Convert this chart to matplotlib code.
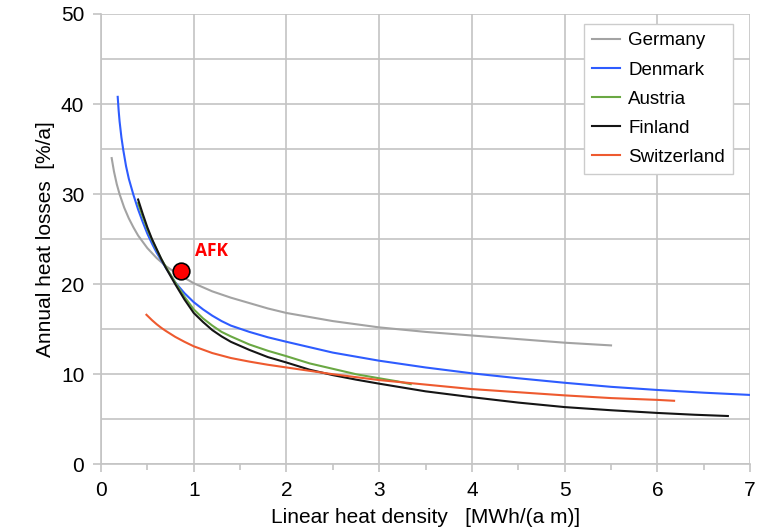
import matplotlib
matplotlib.use("Agg")
from matplotlib import pyplot as plt
from matplotlib.ticker import MultipleLocator

plt.rcParams["font.family"] = ["Liberation Sans", "DejaVu Sans"]

# Data ────────────────────────────────────────────────────────────────────────
germany_x = [0.115, 0.14, 0.17, 0.2, 0.25, 0.3, 0.35, 0.4, 0.5, 0.6, 0.7, 0.8,
             0.9, 1.0, 1.2, 1.4, 1.6, 1.8, 2.0, 2.5, 3.0, 3.5, 4.0, 4.5, 5.0, 5.5]
germany_y = [34.0, 32.5, 31.1, 30.0, 28.5, 27.3, 26.3, 25.4, 24.0, 22.9, 22.0,
             21.3, 20.7, 20.1, 19.2, 18.5, 17.9, 17.3, 16.8, 15.9, 15.2, 14.7,
             14.3, 13.9, 13.5, 13.2]

denmark_x = [0.18, 0.19, 0.2, 0.22, 0.24, 0.27, 0.3, 0.35, 0.4, 0.45, 0.5, 0.55,
             0.6, 0.7, 0.8, 0.9, 1.0, 1.1, 1.2, 1.3, 1.4, 1.6, 1.8, 2.0, 2.25,
             2.5, 3.0, 3.5, 4.0, 4.5, 5.0, 5.5, 6.0, 6.5, 7.0]
denmark_y = [40.8, 39.3, 38.1, 36.3, 34.9, 33.1, 31.7, 29.9, 28.3, 26.9, 25.6,
             24.5, 23.5, 21.8, 20.2, 19.0, 18.0, 17.2, 16.5, 15.9, 15.4, 14.7,
             14.1, 13.6, 13.0, 12.4, 11.5, 10.75, 10.1, 9.55, 9.05, 8.6, 8.25,
             7.95, 7.7]

austria_x = [0.40, 0.45, 0.5, 0.55, 0.6, 0.65, 0.7, 0.8, 0.9, 1.0, 1.1, 1.2, 1.3,
             1.4, 1.6, 1.8, 2.0, 2.25, 2.5, 2.75, 3.0, 3.2, 3.34]
austria_y = [29.0, 27.5, 26.1, 24.9, 23.8, 22.8, 21.9, 20.2, 18.6, 17.2, 16.2,
             15.4, 14.7, 14.2, 13.3, 12.6, 12.0, 11.2, 10.6, 10.0, 9.55, 9.2, 8.9]

finland_x = [0.40, 0.45, 0.5, 0.55, 0.6, 0.65, 0.7, 0.8, 0.9, 1.0, 1.1, 1.2, 1.3,
             1.4, 1.6, 1.8, 2.0, 2.25, 2.5, 2.75, 3.0, 3.5, 4.0, 4.5, 5.0, 5.5,
             6.0, 6.4, 6.76]
finland_y = [29.4, 27.8, 26.3, 25.0, 23.9, 22.8, 21.8, 20.0, 18.3, 16.8, 15.8,
             14.9, 14.2, 13.6, 12.7, 11.9, 11.3, 10.5, 9.9, 9.4, 8.95, 8.1, 7.45,
             6.85, 6.35, 6.0, 5.7, 5.5, 5.36]

switzerland_x = [0.49, 0.55, 0.6, 0.65, 0.7, 0.8, 0.9, 1.0, 1.2, 1.4, 1.6, 1.8,
                 2.0, 2.5, 3.0, 3.5, 4.0, 4.5, 5.0, 5.5, 6.0, 6.18]
switzerland_y = [16.6, 16.0, 15.55, 15.15, 14.8, 14.15, 13.6, 13.1, 12.35, 11.8,
                 11.4, 11.05, 10.75, 10.0, 9.35, 8.85, 8.35, 8.0, 7.65, 7.35,
                 7.15, 7.05]

afk_x, afk_y = 0.86, 21.5

# Plot ─────────────────────────────────────────────────────────────────────────
fig = plt.figure(figsize=(7.67, 5.32), dpi=100)
ax = fig.add_axes([0.1317, 0.1273, 0.8463, 0.8464])

grid_c = "#c4c4c4"
ax.plot(germany_x, germany_y, color="#a3a3a3", lw=1.5, label="Germany")
ax.plot(denmark_x, denmark_y, color="#2e5cff", lw=1.5, label="Denmark")
ax.plot(austria_x, austria_y, color="#6aa843", lw=1.5, label="Austria")
ax.plot(finland_x, finland_y, color="#151515", lw=1.5, label="Finland")
ax.plot(switzerland_x, switzerland_y, color="#ee5a2f", lw=1.5, label="Switzerland")

ax.plot(afk_x, afk_y, "o", ms=12, mfc="#ff0000", mec="black", mew=1.2, zorder=5)
ax.text(afk_x + 0.15, afk_y + 2.2, "AFK", color="#ff0000", fontsize=12.5,
        fontweight="bold", family=["Open Sans", "DejaVu Sans"], va="center")

ax.set_xlim(0, 7)
ax.set_ylim(0, 50)
ax.xaxis.set_major_locator(MultipleLocator(1))
ax.xaxis.set_minor_locator(MultipleLocator(0.5))
ax.yaxis.set_major_locator(MultipleLocator(10))
ax.yaxis.set_minor_locator(MultipleLocator(5))

ax.grid(True, which="major", color=grid_c, lw=1.2)
ax.grid(True, which="minor", axis="y", color=grid_c, lw=1.2)
ax.set_axisbelow(True)

for side in ["top", "right"]:
    ax.spines[side].set_visible(False)
for side in ["left", "bottom"]:
    ax.spines[side].set_color(grid_c)
    ax.spines[side].set_linewidth(1.2)

ax.tick_params(which="major", direction="out", length=6, width=1.2,
               color=grid_c, labelsize=15, pad=6)
ax.tick_params(axis="x", which="minor", direction="out", length=4, width=1.2,
               color=grid_c)
ax.tick_params(axis="y", which="minor", length=0)

ax.set_xlabel("Linear heat density   [MWh/(a m)]", fontsize=15, labelpad=6)
ax.set_ylabel("Annual heat losses  [%/a]", fontsize=15, labelpad=4)

leg = ax.legend(loc="upper right", bbox_to_anchor=(0.974, 0.978),
                borderaxespad=0, fontsize=13.5, fancybox=False, framealpha=1,
                edgecolor="#cccccc", handlelength=1.45, handletextpad=0.45,
                labelspacing=0.64, borderpad=0.45)
leg.get_frame().set_linewidth(1.0)

fig.savefig("out.png", dpi=100)
